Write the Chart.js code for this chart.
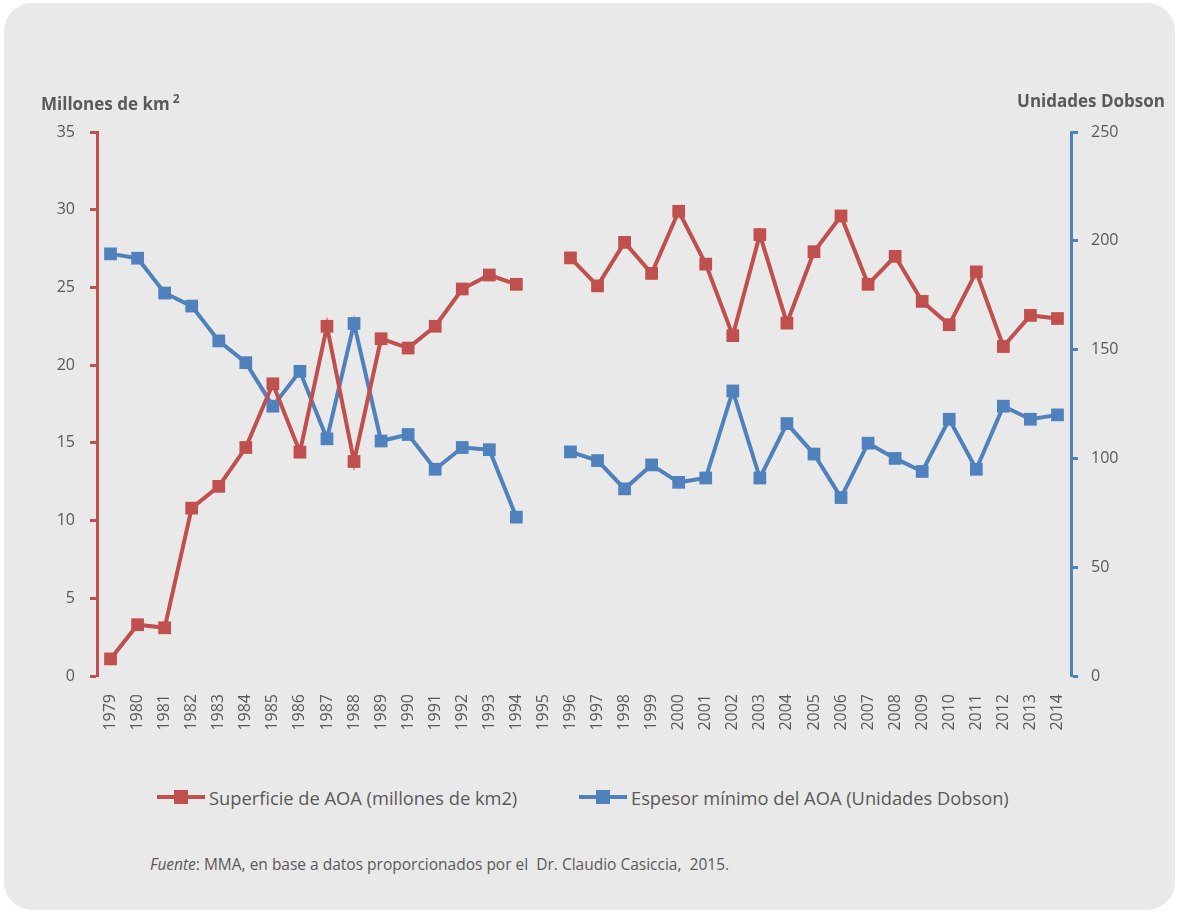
<!DOCTYPE html>
<html>
<head>
<meta charset="utf-8">
<script src="https://cdn.jsdelivr.net/npm/chart.js@4.4.0/dist/chart.umd.min.js"></script>
<style>
  html, body { margin: 0; padding: 0; background: #ffffff; }
  body { width: 1178px; height: 913px; position: relative; overflow: hidden; font-family: 'Open Sans', sans-serif; color: #595959; }
  #panel { position: absolute; left: 4px; top: 3px; width: 1171px; height: 907px; background: #e9e9e9; border-radius: 28px; }
  #chartBox { position: absolute; left: 0; top: 0; width: 1178px; height: 760px; }
  .axisTitle { position: absolute; font-weight: bold; font-size: 17px; line-height: 17px; white-space: nowrap; }
  .axisTitle sup { font-size: 12px; vertical-align: 7px; margin-left: 3px; }
  .legendItem { position: absolute; top: 786px; height: 22px; display: flex; align-items: center; font-size: 18.3px; white-space: nowrap; }
  .sym { position: relative; width: 48px; height: 4px; margin-right: 4px; }
  .sym span { position: absolute; left: 17px; top: -5px; width: 14px; height: 14px; }
  #source { position: absolute; left: 150px; top: 857px; font-size: 15.5px; line-height: 15px; white-space: nowrap; }
</style>
</head>
<body>
<div id="panel"></div>
<div id="chartBox"><canvas id="aoaChart"></canvas></div>
<div class="axisTitle" style="left:41px; top:90px;">Millones de km<sup>2</sup></div>
<div class="axisTitle" style="right:13px; top:92px;">Unidades Dobson</div>
<div class="legendItem" style="left:157px;"><div class="sym" style="background:#c0504d"><span style="background:#c0504d"></span></div>Superficie de AOA (millones de km2)</div>
<div class="legendItem" style="left:579px;"><div class="sym" style="background:#4f81bd"><span style="background:#4f81bd"></span></div>Espesor mínimo del AOA (Unidades Dobson)</div>
<div id="source"><i>Fuente</i>: MMA, en base a datos proporcionados por el&nbsp; Dr. Claudio Casiccia,&nbsp; 2015.</div>

<script>
const years = ['1979', '1980', '1981', '1982', '1983', '1984', '1985', '1986', '1987', '1988',
    '1989', '1990', '1991', '1992', '1993', '1994', '1995', '1996', '1997', '1998',
    '1999', '2000', '2001', '2002', '2003', '2004', '2005', '2006', '2007', '2008',
    '2009', '2010', '2011', '2012', '2013', '2014'];

// superficie del agujero de ozono (millones de km2)
const superficie = [1.1, 3.3, 3.1, 10.8, 12.2, 14.7, 18.8, 14.4, 22.5, 13.8,
    21.7, 21.1, 22.5, 24.9, 25.8, 25.2, null, 26.9, 25.1, 27.9,
    25.9, 29.9, 26.5, 21.9, 28.4, 22.7, 27.3, 29.6, 25.2, 27.0,
    24.1, 22.6, 26.0, 21.2, 23.2, 23.0];

// espesor minimo (unidades Dobson)
const espesor = [194, 192, 176, 170, 154, 144, 124, 140, 109, 162,
    108, 111, 95, 105, 104, 73, null, 103, 99, 86,
    97, 89, 91, 131, 91, 116, 102, 82, 107, 100,
    94, 118, 95, 124, 118, 120];

const leftTicks = [0, 5, 10, 15, 20, 25, 30, 35];
const rightTicks = [0, 50, 100, 150, 200, 250];

const red = '#c0504d';
const blue = '#4f81bd';
const textColor = '#595959';

const ctx = document.querySelector('#aoaChart');

new Chart(ctx, {
    type: 'line',
    data: {
        labels: years,
        datasets: [{
            label: 'Superficie de AOA (millones de km2)',
            data: superficie,
            yAxisID: 'yLeft',
            borderColor: red,
            backgroundColor: red,
            borderWidth: 4,
            pointStyle: 'rect',
            pointRadius: 9,
            pointBorderWidth: 0,
            spanGaps: false
        }, {
            label: 'Espesor mínimo del AOA (Unidades Dobson)',
            data: espesor,
            yAxisID: 'yRight',
            borderColor: blue,
            backgroundColor: blue,
            borderWidth: 4,
            pointStyle: 'rect',
            pointRadius: 9,
            pointBorderWidth: 0,
            spanGaps: false
        }]
    },
    options: {
        responsive: true,
        maintainAspectRatio: false,
        animation: false,
        layout: { padding: { top: 132, left: 0, right: 0, bottom: 0 } },
        plugins: {
            legend: { display: false },
            tooltip: { enabled: false }
        },
        scales: {
            x: {
                offset: true,
                grid: { display: false, drawTicks: false },
                border: { display: false },
                ticks: {
                    color: textColor,
                    font: { family: 'Open Sans', size: 16 },
                    minRotation: 90,
                    maxRotation: 90,
                    autoSkip: false,
                    padding: 18
                },
                afterFit: function (scale) { scale.height = 84; }
            },
            yLeft: {
                position: 'left',
                min: 0,
                max: 35,
                afterBuildTicks: function (scale) {
                    scale.ticks = leftTicks.map(function (v) { return { value: v }; });
                },
                grid: { drawOnChartArea: false, tickLength: 7, tickWidth: 3, tickColor: red },
                border: { color: red, width: 3 },
                ticks: { color: textColor, font: { family: 'Open Sans', size: 16 }, padding: 15 },
                afterFit: function (scale) { scale.width = 97; }
            },
            yRight: {
                position: 'right',
                min: 0,
                max: 250,
                afterBuildTicks: function (scale) {
                    scale.ticks = rightTicks.map(function (v) { return { value: v }; });
                },
                grid: { drawOnChartArea: false, tickLength: 7, tickWidth: 3, tickColor: blue },
                border: { color: blue, width: 3 },
                ticks: { color: textColor, font: { family: 'Open Sans', size: 16 }, padding: 13 },
                afterFit: function (scale) { scale.width = 107; }
            }
        }
    }
});
</script>
</body>
</html>
